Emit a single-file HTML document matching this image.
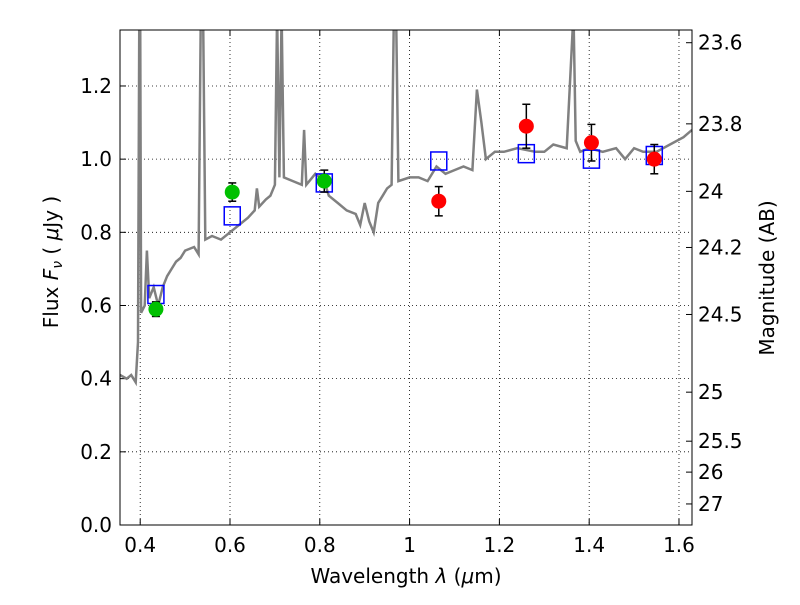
<!DOCTYPE html>
<html><head><meta charset="utf-8"><style>
body{margin:0;background:#fff;font-family:"Liberation Sans","DejaVu Sans",sans-serif}
svg text{font-family:"DejaVu Sans","Liberation Sans",sans-serif;font-size:20px}
</style></head><body>
<svg id="c" width="800" height="600"></svg>
<script>
const xTicks=[0.4,0.6,0.8,1,1.2,1.4,1.6];
const xTickLabels=["0.4","0.6","0.8","1","1.2","1.4","1.6"];
const yTicks=[0,0.2,0.4,0.6,0.8,1.0,1.2];
const yTickLabels=["0.0","0.2","0.4","0.6","0.8","1.0","1.2"];
const magTicks=[23.6,23.8,24,24.2,24.5,25,25.5,26,27];
const magTickLabels=["23.6","23.8","24","24.2","24.5","25","25.5","26","27"];
const specX=[0.355,0.37,0.38,0.39,0.395,0.398,0.40,0.402,0.41,0.415,0.42,0.43,0.44,0.45,0.46,0.47,0.48,0.49,0.50,0.52,0.53,0.535,0.54,0.545,0.56,0.58,0.60,0.62,0.64,0.655,0.66,0.665,0.68,0.69,0.70,0.705,0.71,0.715,0.72,0.74,0.76,0.765,0.77,0.79,0.81,0.82,0.84,0.86,0.88,0.89,0.90,0.91,0.92,0.93,0.94,0.95,0.96,0.965,0.97,0.975,1.0,1.02,1.04,1.06,1.08,1.10,1.12,1.14,1.15,1.16,1.17,1.19,1.21,1.24,1.28,1.30,1.32,1.35,1.365,1.37,1.38,1.40,1.43,1.46,1.48,1.50,1.52,1.55,1.58,1.61,1.629];
const specY=[0.41,0.40,0.41,0.39,0.5,1.4,1.4,0.58,0.6,0.75,0.62,0.65,0.6,0.65,0.68,0.7,0.72,0.73,0.75,0.76,0.74,1.4,1.4,0.78,0.79,0.78,0.8,0.82,0.84,0.86,0.92,0.87,0.89,0.9,0.93,1.4,0.95,1.4,0.95,0.94,0.93,1.08,0.93,0.96,0.94,0.9,0.88,0.86,0.85,0.82,0.88,0.83,0.8,0.88,0.9,0.92,0.93,1.4,1.4,0.94,0.95,0.95,0.94,0.98,0.96,0.97,0.98,0.97,1.19,1.1,1.0,1.02,1.02,1.03,1.02,1.02,1.04,1.03,1.4,1.05,1.02,1.03,1.02,1.03,1.0,1.03,1.02,1.02,1.04,1.06,1.08];
const greenX=[0.435,0.605,0.81], greenY=[0.59,0.91,0.94], greenErr=[0.02,0.025,0.03];
const redX=[1.065,1.26,1.405,1.545], redY=[0.885,1.09,1.045,1.0], redErr=[0.04,0.06,0.05,0.04];
const modelX=[0.435,0.605,0.81,1.065,1.26,1.405,1.545], modelY=[0.63,0.845,0.935,0.995,1.015,1.0,1.01];

const L=120,R=692,T=30,B=525,x0=0.355,x1=1.629,y0=0,y1=1.353;
const sx=v=>L+(v-x0)/(x1-x0)*(R-L), sy=v=>B-(v-y0)/(y1-y0)*(B-T);
const svg=document.getElementById('c'),NS='http://www.w3.org/2000/svg';
function mk(t,a,p){const e=document.createElementNS(NS,t);for(const k in a)e.setAttribute(k,a[k]);(p||svg).appendChild(e);return e;}
const defs=mk('defs',{});const cp=mk('clipPath',{id:'cl'},defs);mk('rect',{x:L,y:T,width:R-L,height:B-T},cp);
xTicks.forEach((v,i)=>{const x=sx(v);
 let g=mk('line',{x1:x,x2:x,y1:T,y2:B,stroke:'#000','stroke-dasharray':'1,3','stroke-width':0.8});
 
 mk('line',{x1:x,x2:x,y1:B,y2:B-6,stroke:'#000'});mk('line',{x1:x,x2:x,y1:T,y2:T+6,stroke:'#000'});
 let t=mk('text',{x:x,y:B+27,'text-anchor':'middle'});t.textContent=xTickLabels[i];
 });
yTicks.forEach((v,i)=>{const y=sy(v);
 let g=mk('line',{x1:L,x2:R,y1:y,y2:y,stroke:'#000','stroke-dasharray':'1,3','stroke-width':0.8});
 
 mk('line',{x1:L,x2:L+6,y1:y,y2:y,stroke:'#000'});
 let t=mk('text',{x:L-8,y:y+7,'text-anchor':'end'});t.textContent=yTickLabels[i];
 });
magTicks.forEach((m,i)=>{const y=sy(Math.pow(10,(23.9-m)/2.5));
 mk('line',{x1:R,x2:R-6,y1:y,y2:y,stroke:'#000'});
 let t=mk('text',{x:R+6,y:y+7});t.textContent=magTickLabels[i];
 });
let d=specX.map((v,i)=>(i?'L':'M')+sx(v).toFixed(1)+','+sy(specY[i]).toFixed(1)).join('');
let sp=mk('path',{d:d,fill:'none',stroke:'#808080','stroke-width':2.5,'clip-path':'url(#cl)'});

modelX.forEach((v,i)=>{let r=mk('rect',{x:sx(v)-8,y:sy(modelY[i])-9,width:16,height:18,fill:'none',stroke:'#0000ff','stroke-width':1.5});
 });
function pts(X,Y,E,col,name){X.forEach((v,i)=>{const x=sx(v);
 mk('line',{x1:x,x2:x,y1:sy(Y[i]-E[i]),y2:sy(Y[i]+E[i]),stroke:'#000','stroke-width':1.5});
 mk('line',{x1:x-4,x2:x+4,y1:sy(Y[i]-E[i]),y2:sy(Y[i]-E[i]),stroke:'#000','stroke-width':1.5});
 mk('line',{x1:x-4,x2:x+4,y1:sy(Y[i]+E[i]),y2:sy(Y[i]+E[i]),stroke:'#000','stroke-width':1.5});
 let c=mk('circle',{cx:x,cy:sy(Y[i]),r:7.5,fill:col});
 });}
pts(greenX,greenY,greenErr,'#00c000','green-photometry-point');
pts(redX,redY,redErr,'#ff0000','red-photometry-point');
let fr=mk('rect',{x:L,y:T,width:R-L,height:B-T,fill:'none',stroke:'#000','stroke-width':1});

let xl=mk('text',{x:406,y:583,'text-anchor':'middle'});xl.innerHTML='Wavelength  <tspan font-style="italic">λ</tspan> (<tspan font-style="italic">μ</tspan>m)';

let yl=mk('text',{x:0,y:0,'text-anchor':'middle',transform:'translate(58,262) rotate(-90)'});yl.innerHTML='Flux  <tspan font-style="italic">F<tspan font-size="14" dy="4">ν</tspan></tspan><tspan dy="-4">  ( </tspan><tspan font-style="italic">μ</tspan>Jy )';

let ml=mk('text',{x:0,y:0,'text-anchor':'middle',transform:'translate(774,278) rotate(-90)'});ml.textContent='Magnitude (AB)';

</script></body></html>
